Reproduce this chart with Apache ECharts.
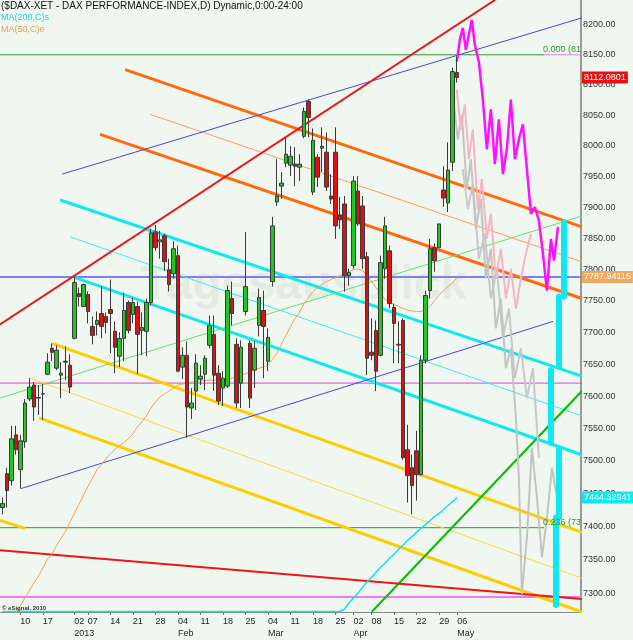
<!DOCTYPE html>
<html><head><meta charset="utf-8">
<script src="https://cdn.jsdelivr.net/npm/echarts@6/dist/echarts.min.js"></script>
<style>html,body{margin:0;padding:0;background:#f0f7f0;}#c{width:633px;height:640px;}</style>
</head><body><div id="c"></div>
<script>
// ---------- DATA ----------
const holidays = ['2012-12-24','2012-12-25','2012-12-26','2012-12-31','2013-01-01','2013-03-29','2013-04-01','2013-05-01'];
const firstDate = '2012-12-04';
const slotCount = 129;
const tickDates = ['2012-12-10','2012-12-17','2013-01-02','2013-01-07','2013-01-14','2013-01-21','2013-01-28','2013-02-04','2013-02-11','2013-02-18','2013-02-25','2013-03-04','2013-03-11','2013-03-18','2013-03-25','2013-04-02','2013-04-08','2013-04-15','2013-04-22','2013-04-29','2013-05-06'];
const monthLabels = {'2013-01-02':'2013','2013-02-04':'Feb','2013-03-04':'Mar','2013-04-02':'Apr','2013-05-06':'May'};
// [open, close, low, high]
const ohlc = [
[7429.0,7435.1,7418.4,7444.1],[7480.6,7454.7,7429.0,7489.7],[7470.0,7534.1,7462.3,7554.1],[7540.2,7517.2,7509.6,7554.1],
[7486.7,7531.0,7457.8,7540.2],[7529.5,7589.5,7520.3,7595.7],[7595.7,7614.3,7592.6,7628.2],[7617.4,7583.3,7561.8,7622.0],
[7597.2,7598.0,7571.0,7617.4],[7603.4,7604.0,7563.3,7619.0],[7634.4,7653.2,7632.9,7667.2],[7675.0,7668.8,7654.7,7682.8],
[7643.8,7671.9,7640.7,7679.7],[7632.9,7636.0,7597.2,7653.2],[7653.2,7654.7,7625.1,7678.1],[7648.5,7614.3,7605.0,7665.6],
[7690.6,7778.8,7689.0,7788.4],[7761.4,7756.7,7740.9,7770.9],[7740.9,7775.7,7740.9,7777.2],[7759.8,7733.0,7714.1,7764.6],
[7709.4,7695.3,7681.2,7725.1],[7712.6,7718.9,7695.3,7733.0],[7729.8,7709.4,7690.6,7772.5],[7725.1,7715.7,7698.4,7731.4],
[7736.1,7729.8,7667.2,7783.6],[7701.6,7676.5,7636.0,7717.3],[7662.5,7690.6,7645.4,7700.0],[7690.6,7734.6,7654.7,7762.9],
[7747.2,7703.1,7698.4,7750.3],[7728.2,7747.2,7714.1,7755.1],[7740.9,7696.9,7634.4,7748.7],[7703.1,7707.8,7664.0,7731.4],
[7701.6,7747.2,7662.5,7753.5],[7747.2,7858.4,7742.5,7864.8],[7860.0,7834.5,7829.7,7871.2],[7844.0,7847.2,7817.0,7861.6],
[7853.6,7812.2,7797.8,7856.8],[7799.4,7775.7,7764.6,7817.0],[7793.1,7832.9,7785.2,7845.6],[7821.8,7639.1,7637.5,7838.1],
[7645.4,7664.0,7626.6,7676.5],[7664.0,7583.3,7535.6,7685.9],[7581.8,7589.5,7564.9,7612.7],[7608.1,7651.6,7578.7,7665.6],
[7626.6,7631.3,7617.4,7648.5],[7634.4,7659.4,7609.6,7664.0],[7679.7,7711.0,7675.0,7726.7],[7696.9,7632.9,7608.1,7726.7],
[7636.0,7592.6,7586.4,7648.5],[7612.7,7628.2,7584.9,7639.1],[7615.8,7766.1,7612.7,7774.1],[7753.5,7729.8,7711.0,7780.4],
[7681.2,7589.5,7581.8,7690.6],[7620.4,7676.5,7581.8,7687.4],[7733.0,7772.5,7726.7,7860.0],[7682.8,7597.2,7581.8,7687.4],
[7640.7,7675.0,7612.7,7685.9],[7711.0,7755.1,7693.7,7769.3],[7734.6,7709.4,7628.2,7766.1],[7654.7,7692.2,7639.1,7706.3],
[7780.4,7869.6,7772.5,7884.1],[7908.2,7917.8,7901.8,7977.7],[7933.9,7938.8,7913.0,7956.6],[7971.2,7985.9,7964.7,8013.6],
[7968.0,7982.6,7950.2,7998.9],[7969.6,7966.3,7933.9,7997.3],[7964.7,7969.6,7942.1,7985.9],[8015.2,8056.1,8012.0,8062.7],
[8072.5,8046.3,8013.6,8075.8],[7924.3,8008.7,7919.4,8028.2],[7980.9,7948.5,7932.3,7985.9],[7995.6,7998.9,7956.6,8029.9],
[7989.1,7932.3,7925.9,8021.7],[7917.8,7913.0,7905.0,7953.4],[7989.1,7869.6,7848.8,8029.9],[7887.3,7879.3,7864.8,7916.2],
[7905.0,7789.9,7764.6,7917.8],[7789.9,7794.7,7774.1,7801.0],[7805.8,7942.1,7801.0,7950.2],[7925.9,7872.8,7869.6,7950.2],
[7901.8,7817.0,7801.0,7917.8],[7820.2,7659.4,7632.9,7828.1],[7668.8,7664.0,7656.3,7722.0],[7703.1,7639.1,7608.1,7718.9],
[7664.0,7810.6,7662.5,7821.8],[7801.0,7869.6,7785.2,7884.1],[7829.7,7745.6,7737.7,7838.1],[7739.3,7714.1,7651.6,7745.6],
[7681.2,7680.0,7651.6,7717.3],[7718.9,7505.0,7502.0,7722.0],[7517.2,7477.6,7436.5,7555.6],[7489.7,7462.3,7418.4,7509.6],
[7515.7,7479.1,7439.5,7546.4],[7479.1,7656.3,7477.6,7664.0],[7656.3,7758.2,7651.6,7766.1],[7766.1,7832.9,7753.5,7848.8],
[7834.5,7813.8,7796.3,7841.3],[7834.5,7872.8,7834.5,7872.8],[7927.5,7914.6,7900.3,7966.3],[7906.6,7959.9,7892.1,8005.4],
[7972.8,8122.0,7958.2,8128.6],[8120.4,8112.1,8103.9,8146.8]
];
const ma50 = [7235,7247,7259,7270,7280.7,7292.6,7303,7314.9,7325.3,7337.2,7350.7,7358.2,7370.2,7382.2,7392.8,7406.3,
7419.9,7433.5,7447.1,7460.8,7473.0,7486.6,7494.3,7503.5,7511.2,7517.3,7523.4,7528.0,7534.1,7541.7,7552.5,7560.2,
7569.5,7581.8,7591.0,7598.7,7603.4,7608.1,7612.7,7617.4,7619.0,7620.5,7622.1,7623.0,7623.7,7624.5,7625.2,7625.2,
7625.2,7625.2,7626.8,7628.2,7630.5,7632.9,7635.2,7637.5,7640.7,7643.8,7645.4,7650.1,7657.8,7667.2,7681.2,7695.3,
7709.4,7722.0,7731.4,7745.6,7755.1,7764.6,7770.9,7775.7,7780.4,7783.6,7786.8,7789.9,7793.1,7796.3,7799.4,7801.0,
7797.8,7791.5,7780.4,7770.9,7761.4,7751.9,7747.2,7744.0,7740.9,7737.7,7735.3,7733.8,7733.0,7733.0,7736.1,7740.9,
7750.3,7759.8,7766.1,7772.5,7778.8,7786.8];
const ma200Early = 7272.5;
const ma200Late = [7276.2,7285.2,7292.6,7300.0,7308.9,7316.4,7323.8,7331.3,7338.7,7344.7,7352.2,7358.2,7365.7,
7371.7,7379.2,7385.2,7391.3,7397.3,7403.3,7409.3,7415.3,7419.9,7426.0,7432.0,7438.1,7444.1];
const yTicks = [7300,7350,7400,7450,7500,7550,7600,7650,7700,7750,7800,7850,7900,7950,8000,8050,8100,8150,8200];
// trend lines: [slot, price] pairs
const redRise = [[-0.5,7712.6],[109.4,8241.9]];
const redFall = [[-0.5,7364.2],[128.7,7291.1]];
const blueLow = [[4.17,7457.8],[122.3,7717.3]];
const blueHigh = [[13.29,7953.4],[128.7,8211.8]];
const orangeUp = [[27.3,8125.3],[128.7,7868.0]];
const orangeMid = [[32.9,8051.2],[128.7,7812.2]];
const orangeLow = [[21.74,8018.4],[128.7,7753.5]];
const cyanUp = [[12.85,7911.4],[128.7,7631.3]];
const cyanMid = [[15.07,7852.0],[128.7,7569.5]];
const cyanLow = [[16.18,7786.8],[128.7,7509.6]];
const goldUp = [[11.07,7682.8],[128.7,7391.3]];
const goldMid = [[6.17,7628.2],[128.7,7322.3]];
const goldLow = [[8.17,7566.4],[128.7,7271.8]];
const goldStub = [[-0.5,7409.3],[5.06,7397.3]];
const greenThin = [[-0.5,7597.2],[128.7,7885.7]];
const greenSteep = [[82.02,7271.8],[128.7,7608.1]];
const levelBlue = 7787.94115;
const levelMagenta = 7620.5;
const levelViolet = 7294.0;
const fib0 = 8150.0;
const fib236 = 7398.3;
const lastPrice = 8112.0801;
const ma200Last = 7444.32941;
// projections (future slots)
const projMagenta = [[100.92,8138.5],[101.59,8175.1],[102.26,8195.1],[102.93,8158.4],[103.6,8183.5],[104.26,8208.5],
 [104.93,8166.7],[105.82,8138.5],[106.71,8075.8],[107.6,7994.0],[108.49,8059.4],[109.38,7969.6],[110.27,8043.0],
 [111.16,7953.4],[112.04,7994.0],[112.93,8075.8],[113.82,7977.7],[114.71,8010.3],[115.6,8034.8],[116.49,7961.5],
 [117.38,7888.9],[118.27,7900.1],[119.16,7877.7],[120.05,7825.0],[120.94,7766.1],[121.83,7848.8],[122.5,7813.8],[123.39,7868.0]];
const projPink = [[100.92,8092.3],[101.81,8026.6],[102.7,8067.6],[103.6,7977.7],[104.48,8026.6],[105.6,7896.9],
 [106.48,7945.3],[107.6,7848.8],[108.49,7888.9],[109.6,7785.2],[110.71,7832.9],[111.82,7753.5],[112.93,7801.0],
 [114.05,7737.7],[115.16,7785.2],[116.27,7825.0],[117.38,7856.8]];
const projGrayA = [[100.03,8084.1],[101.15,8010.3],[102.04,8051.2],[103.15,7929.1],[104.04,7977.7],[105.15,7864.8],
 [106.26,7913.0],[107.38,7785.2],[108.49,7832.9],[109.6,7706.3],[110.71,7753.5],[111.82,7643.8],[112.93,7675.0],
 [114.05,7566.4],[114.71,7474.5],[115.38,7298.5],[116.49,7383.7],[117.6,7520.3],[118.72,7444.1],[119.83,7353.7],
 [120.94,7413.8],[122.05,7489.7],[123.17,7444.1]];
const projGrayB = [[102.26,7961.5],[103.37,7896.9],[104.48,7937.2],[105.82,7817.0],[107.15,7856.8],[108.49,7753.5],
 [109.82,7801.0],[111.16,7690.6],[112.49,7737.7],[113.82,7628.2],[115.16,7675.0],[116.49,7597.2],[117.83,7643.8],[119.16,7505.0]];
const projCyanBars = [
 [[124.72,7874.5],[124.72,7756.7]], [[123.61,7756.7],[123.61,7646.9]], [[121.83,7640.7],[121.83,7527.9]],
 [[123.61,7517.2],[123.61,7413.8]], [[122.94,7413.8],[122.94,7282.2]]];

// ---------- BUILD ----------
function buildDates(start, n) {
  const out = []; const d = new Date(start + 'T12:00:00Z');
  while (out.length < n) {
    const wd = d.getUTCDay(); const s = d.toISOString().slice(0,10);
    if (wd !== 0 && wd !== 6 && holidays.indexOf(s) < 0) out.push(s);
    d.setUTCDate(d.getUTCDate() + 1);
  }
  return out;
}
const categories = buildDates(firstDate, slotCount);
const ma200 = categories.slice(0, ohlc.length - ma200Late.length).map(() => ma200Early).concat(ma200Late);

const FONT = '"Liberation Sans", Arial, sans-serif';
function seg(data, color, width, z, cap) {
  return { type:'line', xAxisIndex:1, yAxisIndex:0, data:data, symbol:'none', silent:true,
    lineStyle:{color:color, width:width, cap:cap || 'butt'}, z: z || 2, animation:false };
}
function hseg(v, x0, x1, color, width) { return seg([[x0, v],[x1, v]], color, width); }

const chart = echarts.init(document.getElementById('c'), null, {renderer:'canvas'});
const option = {
  backgroundColor:'#f0f7f0',
  animation:false,
  grid:{left:0, top:0, width:581, height:615, containLabel:false},
  xAxis:[
    {type:'category', data:categories, boundaryGap:true,
     axisLine:{show:true, lineStyle:{color:'#888', width:1}},
     axisTick:{show:true, length:3, alignWithLabel:true, lineStyle:{color:'#777'},
       interval:(i, v) => tickDates.indexOf(v) >= 0},
     axisLabel:{show:true, fontSize:9, fontFamily:FONT, color:'#222', align:'left', margin:4, lineHeight:12,
       interval:(i, v) => tickDates.indexOf(v) >= 0,
       formatter:(v) => v.slice(8,10) + (monthLabels[v] ? '\n' + monthLabels[v] : '')},
     splitLine:{show:false}},
    {type:'value', min:-0.5, max:128.5, show:false}
  ],
  yAxis:[{type:'log', logBase:10, min:7271.8, max:8241.9, position:'right',
    axisLine:{show:true, onZero:false, lineStyle:{color:'#999', width:2}}, axisTick:{show:false},
    axisLabel:{show:false}, splitLine:{show:false}}],
  graphic:[
    {type:'text', left:1, top:1, z:100, style:{text:'($DAX-XET - DAX PERFORMANCE-INDEX,D) Dynamic,0:00-24:00', font:'10px '+FONT, fill:'#111'}},
    {type:'text', left:1, top:13, z:100, style:{text:'MA(200,C)s', font:'9px '+FONT, fill:'#10d8e8'}},
    {type:'text', left:1, top:25, z:100, style:{text:'MA(50,C)e', font:'9px '+FONT, fill:'#f0a050'}},
    {type:'text', left:2, top:605, z:100, style:{text:'\u00a9 eSignal, 2010', font:'bold 6px '+FONT, fill:'#333'}},
    {type:'text', left:140, top:262, z:-1, style:{text:'Tagesausblick', font:'bold 48px '+FONT, fill:'rgba(60,90,60,0.07)'}}
  ],
  series:[
    hseg(fib0, -0.5, 120.3, '#2f9a2f', 1),
    hseg(fib0, 120.3, 128.7, '#e080e0', 1),
    hseg(fib236, -0.5, 120.3, '#2f9a2f', 1),
    hseg(levelViolet, -0.5, 128.7, '#ee7cee', 2),
    hseg(levelMagenta, -0.5, 128.7, '#e040e0', 1),
    hseg(levelBlue, -0.5, 128.7, '#7f7ff5', 2),
    seg(goldStub, '#ffcc00', 3), seg(goldUp, '#ffcc00', 3), seg(goldMid, '#ffd83a', 1), seg(goldLow, '#ffcc00', 3),
    seg(cyanUp, '#10e8f0', 3), seg(cyanMid, '#40e8f0', 1), seg(cyanLow, '#10e8f0', 3),
    seg(orangeUp, '#ff6a10', 3), seg(orangeMid, '#ff9a6a', 1), seg(orangeLow, '#ff6a10', 3),
    seg(greenThin, '#66e066', 1), seg(greenSteep, '#00c000', 2),
    seg(blueLow, '#4646e0', 1), seg(blueHigh, '#4646e0', 1),
    seg(redRise, '#ee1515', 2), seg(redFall, '#ee1515', 2),
    seg(projGrayB, '#c8c8c8', 2, 3), seg(projGrayA, '#c4c4c4', 2, 3),
    seg(projPink, '#f6b4c4', 2, 3), seg(projMagenta, '#ff10ff', 2.5, 4)
  ].concat(projCyanBars.map(b => seg(b, '#10e8f0', 6, 4, 'round'))).concat([
    {type:'line', xAxisIndex:0, yAxisIndex:0, data:ma200, symbol:'none', silent:true,
      lineStyle:{color:'#10e0f0', width:1.5}, z:3},
    {type:'line', xAxisIndex:0, yAxisIndex:0, data:ma50, symbol:'none', silent:true,
      lineStyle:{color:'#f4a050', width:1}, z:3},
    {type:'candlestick', xAxisIndex:0, yAxisIndex:0, data:ohlc, barWidth:4, z:5, silent:true,
      itemStyle:{color:'#1ec81e', color0:'#e01010', borderColor:'#3a3a3a', borderColor0:'#3a3a3a', borderWidth:1}},
    {type:'line', xAxisIndex:1, yAxisIndex:0, data:[], silent:true, z:10,
      markLine:{silent:true, symbol:['none','none'], animation:false,
        lineStyle:{color:'rgba(0,0,0,0)', width:0},
        data: yTicks.map(v => ({yAxis:v, label:{show:true, position:'end', distance:2, formatter:v.toFixed(2),
             fontSize:9, fontFamily:FONT, color:'#333'}}))
          .concat([
            {yAxis:lastPrice, label:{show:true, position:'end', distance:1, formatter:'8112.0801', fontSize:9, fontFamily:FONT,
              color:'#fff', backgroundColor:'#e81010', padding:[2,2,1,2]}},
            {yAxis:levelBlue, label:{show:true, position:'end', distance:1, formatter:'7787.94115', fontSize:9, fontFamily:FONT,
              color:'#fff', backgroundColor:'#f0a860', padding:[2,2,1,2]}},
            {yAxis:ma200Last, label:{show:true, position:'end', distance:1, formatter:'7444.32941', fontSize:9, fontFamily:FONT,
              color:'#fff', backgroundColor:'#10e8f0', padding:[2,2,1,2]}},
            {yAxis:fib0, label:{show:true, position:'insideEndTop', distance:[0,1], formatter:'0.000 (81', fontSize:9, fontFamily:FONT, color:'#2f9a2f'}},
            {yAxis:fib236, label:{show:true, position:'insideEndTop', distance:[0,1], formatter:'0.236 (73', fontSize:9, fontFamily:FONT, color:'#2f9a2f'}}
          ])}}
  ])
};
chart.setOption(option);
</script></body></html>
